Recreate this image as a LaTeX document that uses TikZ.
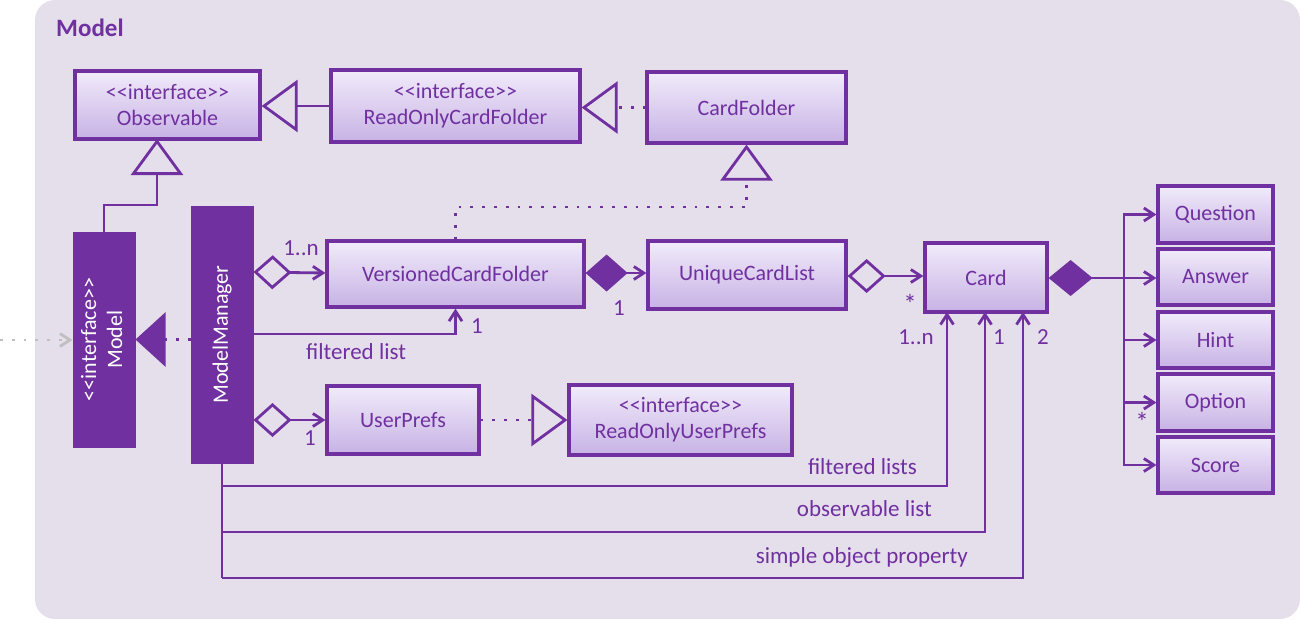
\documentclass[tikz,border=0pt]{standalone}
\usepackage{fontspec}
\usepackage{graphicx}
\setmainfont{Carlito}
\usetikzlibrary{arrows.meta}
\definecolor{pur}{HTML}{7030A0}
\definecolor{bgc}{HTML}{E5DFEC}
\definecolor{btop}{HTML}{F1EBFA}
\definecolor{bbot}{HTML}{C7B2E5}
\definecolor{gry}{HTML}{BFBFBF}
\newcommand\fsz{\fontsize{22}{26}\selectfont}
\newcommand\lsz{\fontsize{23}{26}\selectfont}
\tikzset{
  cls/.style={draw=pur, line width=3.2pt, top color=btop, bottom color=bbot, text=pur, font=\fsz, inner sep=0pt, align=center},
  dk/.style={draw=pur, fill=pur, line width=1pt, text=white, font=\fsz, inner sep=0pt, align=center},
  ln/.style={draw=pur, line width=2.8pt},
  dotln/.style={ln, dash pattern=on 2.8pt off 9pt},
  bar/.style={-{Straight Barb[length=10pt,width=13pt]}},
  gen/.style={-{Triangle[open,length=36pt,width=52pt]}},
  genf/.style={-{Triangle[length=30pt,width=54pt]}},
  agg/.style={{Diamond[open,length=38pt,width=34pt]}-{Straight Barb[length=10pt,width=13pt]}},
  comp/.style={{Diamond[length=42pt,width=37pt]}-{Straight Barb[length=10pt,width=13pt]}},
  lbl/.style={text=pur, font=\lsz, inner sep=0pt},
  star/.style={text=pur, font=\fontsize{27}{26}\selectfont, inner sep=0pt},
}
\begin{document}
\begin{tikzpicture}[x=1pt,y=-1pt]
\useasboundingbox (0,0) rectangle (1300,619);
\fill[bgc, rounded corners=20pt] (35,0) rectangle (1300,619);
\node[anchor=west, text=pur, font=\fontsize{25}{28}\selectfont\bfseries, inner sep=0pt] (title) at (56,28) {Model};

% class boxes
\node[cls, minimum width=185pt, minimum height=68pt] (obs) at (167.5,105) {<{}<interface>{}>\\Observable};
\node[cls, minimum width=249pt, minimum height=72pt] (rocf) at (455.5,106) {<{}<interface>{}>\\ReadOnlyCardFolder};
\node[cls, minimum width=199pt, minimum height=71pt] (cf) at (746.5,107.5) {CardFolder};
\node[cls, minimum width=257pt, minimum height=66pt] (vcf) at (455.5,274) {VersionedCardFolder};
\node[cls, minimum width=198pt, minimum height=68pt] (ucl) at (747,275) {UniqueCardList};
\node[cls, minimum width=122pt, minimum height=69pt] (card) at (986,277.5) {Card};
\node[cls, minimum width=152pt, minimum height=68pt] (up) at (403,420) {UserPrefs};
\node[cls, minimum width=223pt, minimum height=70pt] (roup) at (680.5,420) {<{}<interface>{}>\\ReadOnlyUserPrefs};
\node[cls, minimum width=115pt, minimum height=57pt] (q) at (1215.5,214.5) {Question};
\node[cls, minimum width=115pt, minimum height=56pt] (a) at (1215.5,277) {Answer};
\node[cls, minimum width=115pt, minimum height=56pt] (h) at (1215.5,340) {Hint};
\node[cls, minimum width=115pt, minimum height=57pt] (o) at (1215.5,402.5) {Option};
\node[cls, minimum width=115pt, minimum height=56pt] (s) at (1215.5,465) {Score};
\node[dk, minimum width=62pt, minimum height=215pt] (model) at (104,339.5) {\rotatebox{90}{\begin{tabular}{@{}c@{}}<{}<interface>{}>\\Model\end{tabular}}};
\node[dk, minimum width=62pt, minimum height=257pt] (mm) at (222,334.5) {\rotatebox{90}{ModelManager}};

% generalisation / realisation
\draw[ln, gen] (rocf.west) -- (obs.east |- rocf.west);
\draw[dotln, gen] (cf.west) -- (rocf.east |- cf.west);
\draw[ln, gen] (model.north) -- (104,205) -| (157,139);
\draw[dotln, gen] (vcf.north) -- (455.5,207) -| (cf.south);
\draw[dotln, genf] (mm.west |- model.east) -- (model.east);
\draw[gry, line width=2.8pt, dash pattern=on 2.8pt off 9pt, -{Straight Barb[length=10pt,width=13pt]}] (0,340) coordinate (ext) -- (model.west |- ext);

% associations
\draw[ln, agg] (mm.east |- 0,272) -- (vcf.west |- 0,273);
\draw[ln, bar] (mm.east |- 0,334) -- (455.5,334) -- (vcf.south);
\draw[ln, agg] (mm.east |- up.west) -- (up.west);
\draw[dotln, gen] (up.east) -- (roup.west);
\draw[ln, comp] (vcf.east |- 0,273) -- (ucl.west |- 0,273);
\draw[ln, agg] (ucl.east |- 0,276) -- (card.west |- 0,276);

% card parts
\coordinate (bus) at (1124,278);
\draw[ln, {Diamond[length=44pt,width=36pt]}-] (card.east |- bus) -- (bus);
\draw[ln, bar] (bus) |- (q.west);
\draw[ln, bar] (bus) -- (a.west |- bus);
\draw[ln, bar] (bus) |- (h.west);
\draw[ln, bar] (bus) |- (o.west);
\draw[ln, bar] (bus) |- (s.west);

% bottom lines
\draw[ln] (mm.south) -- (222,578);
\draw[ln, bar] (222,486) -| (947,312);
\draw[ln, bar] (222,532) -| (985,312);
\draw[ln, bar] (222,578) -| (1023,312);

% labels
\node[lbl] (l1) at (301,248) {1..n};
\node[lbl] (l2) at (477,326) {1};
\node[lbl, anchor=west] (l3) at (306,352) {filtered list};
\node[lbl] (l4) at (619,308) {1};
\node[star] (l5) at (910,304) {*};
\node[lbl] (l6) at (310,438) {1};
\node[lbl] (l7) at (916,337) {1..n};
\node[lbl] (l8) at (999,337) {1};
\node[lbl] (l9) at (1043,337) {2};
\node[star] (l10) at (1142,422) {*};
\node[lbl, anchor=east] (l11) at (917,467) {filtered lists};
\node[lbl, anchor=east] (l12) at (932,509) {observable list};
\node[lbl, anchor=east] (l13) at (968,557) {simple object property};
\end{tikzpicture}
\end{document}
